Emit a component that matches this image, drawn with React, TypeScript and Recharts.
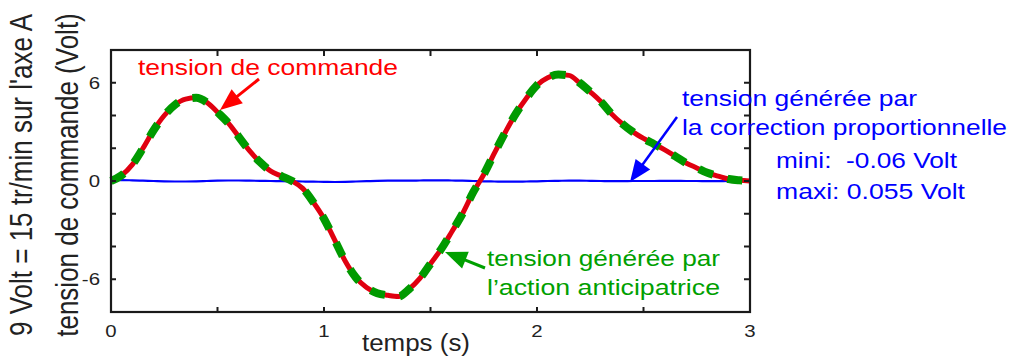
import { LineChart, Line, XAxis, YAxis } from 'recharts'

// temps (s)
const temps = [
  0, 0.05, 0.1, 0.15, 0.2, 0.25, 0.3, 0.35, 0.4, 0.45,
  0.5, 0.55, 0.6, 0.65, 0.7, 0.75, 0.8, 0.85, 0.9, 0.95,
  1, 1.05, 1.1, 1.15, 1.2, 1.25, 1.3, 1.35, 1.4, 1.45,
  1.5, 1.55, 1.6, 1.65, 1.7, 1.75, 1.8, 1.85, 1.9, 1.95,
  2, 2.05, 2.1, 2.15, 2.2, 2.25, 2.3, 2.35, 2.4, 2.45,
  2.5, 2.55, 2.6, 2.65, 2.7, 2.75, 2.8, 2.85, 2.9, 2.95, 3,
]

// tension de commande (Volt)
const commande = [
  0, 0.35, 1.0, 2.0, 3.1, 4.0, 4.65, 5.0, 5.08, 4.8,
  4.2, 3.55, 2.7, 1.85, 1.15, 0.6, 0.3, 0.0, -0.45, -1.3,
  -2.3, -3.6, -4.9, -5.9, -6.5, -6.85, -6.98, -7.05, -6.6, -5.95,
  -5.05, -4.16, -3.1, -2.0, -0.7, 0.4, 1.7, 2.95, 4.1, 5.05,
  5.85, 6.3, 6.5, 6.45, 6.0, 5.45, 4.85, 4.1, 3.5, 3.0,
  2.6, 2.25, 1.9, 1.5, 1.1, 0.8, 0.5, 0.3, 0.12, 0.04, 0,
]

// tension générée par l'action anticipatrice
const anticipatrice = [
  0, 0.35, 1.0, 2.0, 3.1, 4.0, 4.65, 5.0, 5.08, 4.8,
  4.2, 3.55, 2.7, 1.85, 1.15, 0.6, 0.3, 0.0, -0.45, -1.3,
  -2.3, -3.6, -4.9, -5.9, -6.5, -6.85, -6.98, -7.05, -6.6, -5.95,
  -5.05, -4.16, -3.1, -2.0, -0.7, 0.4, 1.7, 2.95, 4.1, 5.05,
  5.85, 6.3, 6.5, 6.45, 6.0, 5.45, 4.85, 4.1, 3.5, 3.0,
  2.6, 2.25, 1.9, 1.5, 1.1, 0.8, 0.5, 0.3, 0.12, 0.04, 0,
]

// tension générée par la correction proportionnelle
const proportionnelle = [
  0.05, 0.055, 0.04, 0.02, 0.0, -0.02, -0.03, -0.03, -0.02, 0.0,
  0.02, 0.03, 0.03, 0.02, 0.01, 0.0, -0.01, -0.02, -0.03, -0.04,
  -0.05, -0.06, -0.05, -0.03, -0.01, 0.01, 0.02, 0.02, 0.02, 0.03,
  0.04, 0.04, 0.03, 0.02, 0.0, -0.02, -0.03, -0.04, -0.04, -0.03,
  -0.02, 0.0, 0.01, 0.02, 0.02, 0.01, 0.0, -0.01, -0.01, 0.0,
  0.0, 0.0, 0.01, 0.01, 0.0, 0.0, -0.01, -0.01, 0.0, 0.0, 0.0,
]

const xTicks = [0, 0.5, 1, 1.5, 2, 2.5, 3]
const yTicks = [-8, -6, -4, -2, 0, 2, 4, 6, 8]
const yLabels = [-6, 0, 6]

const data = temps.map((t, i) => ({
  t,
  commande: commande[i],
  anticipatrice: anticipatrice[i],
  proportionnelle: proportionnelle[i],
}))

const FONT = '"Liberation Sans", Arial, sans-serif'
const AXIS = '#1a1a1a'

// plot box
const LEFT = 111
const RIGHT = 750
const TOP = 50
const BOTTOM = 312

const XTick = ({ x, y, payload }: any) =>
  Number.isInteger(payload.value) ? (
    <text
      transform={`translate(${x},${y + 13}) scale(1.2,1)`}
      textAnchor="middle"
      fontSize={17}
      fontFamily={FONT}
      fill="#222"
    >
      {payload.value}
    </text>
  ) : null

const YTick = ({ x, y, payload }: any) =>
  yLabels.includes(payload.value) ? (
    <text
      transform={`translate(${x},${y + 6}) scale(1.2,1)`}
      textAnchor="end"
      fontSize={17}
      fontFamily={FONT}
      fill="#222"
    >
      {payload.value}
    </text>
  ) : null

function Arrow({ x1, y1, x2, y2, color, w }: any) {
  const dx = x2 - x1
  const dy = y2 - y1
  const len = Math.sqrt(dx * dx + dy * dy)
  const ux = dx / len
  const uy = dy / len
  const hl = 22
  const hw = 9
  const bx = x2 - ux * hl
  const by = y2 - uy * hl
  const pts = `${x2},${y2} ${bx - uy * hw},${by + ux * hw} ${bx + uy * hw},${by - ux * hw}`
  return (
    <g>
      <line x1={x1} y1={y1} x2={bx + ux * 2} y2={by + uy * 2} stroke={color} strokeWidth={w} />
      <polygon points={pts} fill={color} />
    </g>
  )
}

function Label({ x, y, len, color, size = 22, children }: any) {
  return (
    <text
      x={x}
      y={y}
      fill={color}
      fontSize={size}
      fontFamily={FONT}
      textLength={len}
      lengthAdjust="spacingAndGlyphs"
      style={{ whiteSpace: 'pre' }}
    >
      {children}
    </text>
  )
}

export default function App() {
  const px = (t: number) => LEFT + (t / 3) * (RIGHT - LEFT)
  const py = (v: number) => TOP + ((8 - v) / 16) * (BOTTOM - TOP)
  return (
    <div style={{ position: 'absolute', left: 0, top: 0, width: 1011, height: 356, background: '#fff' }}>
      <LineChart
        width={1011}
        height={356}
        data={data}
        margin={{ top: TOP, right: 1011 - RIGHT, bottom: 356 - BOTTOM - 30, left: LEFT - 60 }}
      >
        <XAxis
          dataKey="t"
          type="number"
          domain={[0, 3]}
          ticks={xTicks}
          tickSize={-5}
          tickMargin={17}
          height={30}
          stroke={AXIS}
          strokeWidth={2}
          tick={<XTick />}
          interval={0}
        />
        <YAxis
          type="number"
          domain={[-8, 8]}
          ticks={yTicks}
          tickSize={-5}
          tickMargin={16}
          width={60}
          stroke={AXIS}
          strokeWidth={2}
          tick={<YTick />}
          interval={0}
        />
        <Line
          type="monotone"
          dataKey="proportionnelle"
          stroke="#0000ff"
          strokeWidth={2.2}
          dot={false}
          isAnimationActive={false}
        />
        <Line
          type="monotone"
          dataKey="commande"
          stroke="#e00010"
          strokeWidth={5}
          dot={false}
          isAnimationActive={false}
        />
        <Line
          type="monotone"
          dataKey="anticipatrice"
          stroke="#009a00"
          strokeWidth={8}
          strokeDasharray="15 15"
          dot={false}
          isAnimationActive={false}
        />
      </LineChart>
      <svg
        width={1011}
        height={356}
        style={{ position: 'absolute', left: 0, top: 0, pointerEvents: 'none' }}
      >
        {/* full frame of the plot box, with inward ticks on the top and right edges */}
        <rect
          x={LEFT}
          y={TOP}
          width={RIGHT - LEFT}
          height={BOTTOM - TOP}
          fill="none"
          stroke={AXIS}
          strokeWidth={2.2}
        />
        {xTicks.map((t) => (
          <rect key={`tx${t}`} x={px(t) - 1} y={TOP} width={2} height={6} fill={AXIS} />
        ))}
        {yTicks.map((v) => (
          <rect key={`ty${v}`} x={RIGHT - 6} y={py(v) - 1} width={6} height={2} fill={AXIS} />
        ))}

        <Label x={138} y={75} len={260} color="#ff0000">tension de commande</Label>
        <Arrow x1={259} y1={79} x2={220} y2={110} color="#ff0000" w={3} />

        <Label x={682} y={106} len={235} color="#0000ff">tension générée par</Label>
        <Label x={682} y={135} len={325} color="#0000ff">la correction proportionnelle</Label>
        <Label x={776} y={168} len={181} color="#0000ff">mini:  -0.06 Volt</Label>
        <Label x={776} y={199} len={189} color="#0000ff">maxi: 0.055 Volt</Label>
        <Arrow x1={677} y1={117} x2={630} y2={182} color="#0000ff" w={2.5} />

        <Label x={487} y={266} len={233} color="#00a000">tension générée par</Label>
        <Label x={487} y={295} len={233} color="#00a000">l’action anticipatrice</Label>
        <Arrow x1={485} y1={268} x2={445} y2={252} color="#00a000" w={3} />

        <Label x={362} y={351} len={108} color="#222" size={23}>temps (s)</Label>

        <text
          transform="translate(32,175) scale(1.23,1) rotate(-90)"
          textAnchor="middle"
          fontSize={26}
          fontFamily={FONT}
          fill="#222"
        >
          9 Volt = 15 tr/min sur l'axe A
        </text>
        <text
          transform="translate(78,175) scale(1.23,1) rotate(-90)"
          textAnchor="middle"
          fontSize={26}
          fontFamily={FONT}
          fill="#222"
        >
          tension de commande (Volt)
        </text>
      </svg>
    </div>
  )
}
